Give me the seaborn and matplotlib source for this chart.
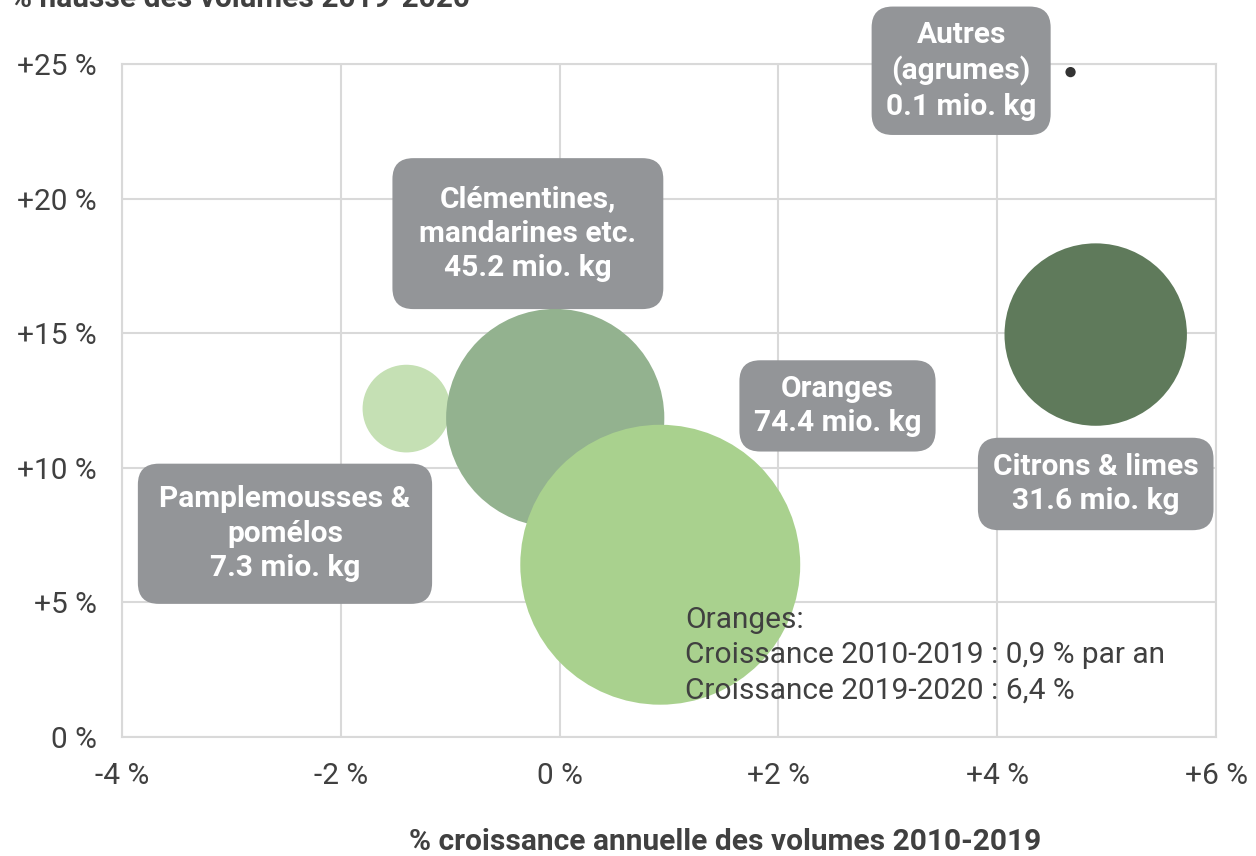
import pandas as pd
import matplotlib.pyplot as plt
import seaborn as sns

# Data
names = ["Pamplemousses & pomélos", "Clémentines, mandarines etc.", "Oranges",
         "Citrons & limes", "Autres (agrumes)"]
growth_2010_2019 = [-1.4, -0.04, 0.92, 4.9, 4.67]
growth_2019_2020 = [12.2, 11.85, 6.4, 14.95, 24.7]
volumes = [7.3, 45.2, 74.4, 31.6, 0.1]
colors = ["#c5e0b4", "#93b28f", "#a9d18e", "#5f7a5b", "#333333"]

box_labels = ["Pamplemousses &\npomélos\n7.3 mio. kg",
              "Clémentines,\nmandarines etc.\n45.2 mio. kg",
              "Oranges\n74.4 mio. kg",
              "Citrons & limes\n31.6 mio. kg",
              "Autres\n(agrumes)\n0.1 mio. kg"]
box_x = [-2.51, -0.29, 2.54, 4.9, 3.67]
box_y = [7.55, 18.7, 12.3, 9.4, 24.75]
box_pad = [0.72, 0.9, 0.48, 0.5, 0.48]

x_ticks = [-4, -2, 0, 2, 4, 6]
x_ticklabels = ["-4 %", "-2 %", "0 %", "+2 %", "+4 %", "+6 %"]
y_ticks = [0, 5, 10, 15, 20, 25]
y_ticklabels = ["0 %", "+5 %", "+10 %", "+15 %", "+20 %", "+25 %"]

note = "Oranges:\nCroissance 2010-2019 : 0,9 % par an\nCroissance 2019-2020 : 6,4 %"

df = pd.DataFrame({"name": names, "x": growth_2010_2019, "y": growth_2019_2020, "vol": volumes})

sns.set_theme(style="white")
plt.rcParams["font.family"] = ["Roboto", "DejaVu Sans"]
FS = 21.5

fig = plt.figure(figsize=(12.56, 8.56), dpi=100)
ax = fig.add_axes([0.0971, 0.139, 0.8711, 0.7862])

# bubble area proportional to volume
scale = 546
sizes = {n: v * scale for n, v in zip(names, volumes)}
sns.scatterplot(data=df, x="x", y="y", hue="name", palette=dict(zip(names, colors)),
                size="name", sizes=sizes, legend=False, linewidth=0, alpha=1,
                ax=ax, zorder=3)

for lbl, bx, by, pd_ in zip(box_labels, box_x, box_y, box_pad):
    ax.text(bx, by, lbl, ha="center", va="center", color="white", fontsize=FS,
            fontweight="bold", linespacing=1.3, zorder=5,
            bbox=dict(boxstyle=f"round,pad={pd_},rounding_size=0.7", fc="#939598", ec="none"))

ax.text(1.146, 4.85, note, ha="left", va="top", color="#404040", fontsize=FS,
        linespacing=1.32, zorder=6)

ax.set_xlim(-4, 6)
ax.set_ylim(0, 25)
ax.set_xticks(x_ticks)
ax.set_xticklabels(x_ticklabels)
ax.set_yticks(y_ticks)
ax.set_yticklabels(y_ticklabels)
ax.tick_params(axis="x", length=0, pad=18, labelsize=FS, labelcolor="#404040")
ax.tick_params(axis="y", length=0, pad=18, labelsize=FS, labelcolor="#404040")
ax.grid(True, color="#d9d9d9", linewidth=1.5)
ax.set_axisbelow(True)
for sp in ax.spines.values():
    sp.set_color("#d9d9d9")
    sp.set_linewidth(1.5)

ax.set_xlabel("")
ax.set_ylabel("")
fig.text(0.577, 0.0164, "% croissance annuelle des volumes 2010-2019", ha="center",
         va="center", fontsize=FS, fontweight="bold", color="#404040")
fig.text(0.008, 0.9918, "% hausse des volumes 2019-2020", ha="left", va="baseline",
         fontsize=FS, fontweight="bold", color="#404040")

fig.savefig("out.png", dpi=100)
